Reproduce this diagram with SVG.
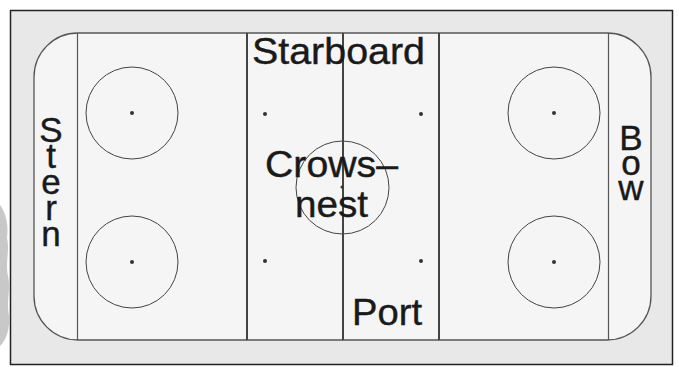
<svg xmlns="http://www.w3.org/2000/svg" width="679" height="367" viewBox="0 0 679 367">
<style>
.lbl{font-family:"Liberation Sans",Arial,sans-serif;font-size:36px;fill:#1a1a1a;stroke:#1a1a1a;stroke-width:0.4}
.vl{font-family:"Liberation Sans",Arial,sans-serif;font-size:35px;fill:#1a1a1a;stroke:#1a1a1a;stroke-width:0.4;writing-mode:vertical-rl;text-orientation:upright}
.circ{fill:none;stroke:#444;stroke-width:1}
.dot{fill:#333}
.thick{stroke:#444;stroke-width:2}
.thin{stroke:#555;stroke-width:1.2}
</style>
<rect width="679" height="367" fill="#ffffff"/>
<path d="M0,205 C5,212 9,222 7,238 C10,252 5,262 8,276 C11,290 6,300 9,316 C10,330 6,340 0,346 Z" fill="#c8c8c8"/>
<g id="frame">
<rect x="10.5" y="10.5" width="662" height="354" fill="#e8e8e8" stroke="#222" stroke-width="1.5"/>
</g>
<g id="rink">
<path d="M78,33 H607 A44,44 0 0 1 651,77 V296 A44,44 0 0 1 607,340 H78 A44,44 0 0 1 34,296 V77 A44,44 0 0 1 78,33 Z" fill="#f5f5f5" stroke="#555" stroke-width="1.3"/>
</g>
<g id="lines">
<line class="thin" x1="77.5" y1="33" x2="77.5" y2="340"/>
<line class="thin" x1="608.5" y1="33" x2="608.5" y2="340"/>
<line class="thick" x1="247" y1="33" x2="247" y2="340"/>
<line class="thick" x1="343" y1="33" x2="343" y2="340"/>
<line class="thick" x1="439" y1="33" x2="439" y2="340"/>
</g>
<g id="circles">
<circle class="circ" cx="132" cy="113" r="46"/>
<circle class="circ" cx="132" cy="262" r="46"/>
<circle class="circ" cx="554" cy="113" r="46"/>
<circle class="circ" cx="554" cy="262" r="46"/>
<circle class="circ" cx="342.5" cy="187.5" r="46.5"/>
<circle class="dot" cx="132" cy="113" r="2"/>
<circle class="dot" cx="132" cy="262" r="2"/>
<circle class="dot" cx="554" cy="113" r="2"/>
<circle class="dot" cx="554" cy="262" r="2"/>
<circle class="dot" cx="265" cy="114" r="2"/>
<circle class="dot" cx="421" cy="114" r="2"/>
<circle class="dot" cx="265" cy="261" r="2"/>
<circle class="dot" cx="421" cy="261" r="2"/>
<circle class="dot" cx="342" cy="187" r="1.5"/>
</g>
<g id="starboard"><text class="lbl" x="252" y="64" textLength="173" lengthAdjust="spacingAndGlyphs">Starboard</text></g>
<g id="port"><text class="lbl" x="352" y="325" textLength="70" lengthAdjust="spacingAndGlyphs">Port</text></g>
<g id="crowsnest">
<text class="lbl" x="265" y="177" textLength="133" lengthAdjust="spacingAndGlyphs">Crows–</text>
<text class="lbl" x="295" y="217" textLength="73" lengthAdjust="spacingAndGlyphs">nest</text>
</g>
<g id="stern">
<text class="vl" x="51" y="110" letter-spacing="-13">Stern</text>
</g>
<g id="bow">
<text class="vl" x="631" y="118" letter-spacing="-14">Bow</text>
</g>
</svg>
